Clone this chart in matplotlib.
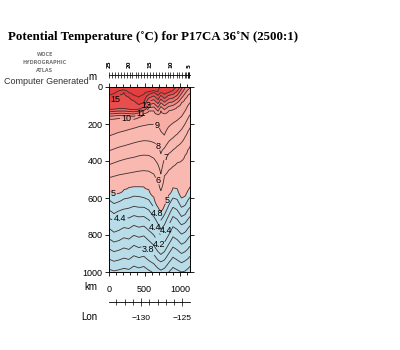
import numpy as np
import matplotlib
matplotlib.use("Agg")
import matplotlib.pyplot as plt

nan = np.nan

# section distance (km) of the profile columns and surface temperature
dist = [0, 70, 140, 210, 280, 350, 420, 490, 560, 630, 690, 730, 780, 840, 900, 960, 1020, 1070, 1110, 1140]
sst = [17.3, 17.3, 17.2, 17.2, 17.0, 17.0, 16.8, 16.6, 16.4, 16.3, 16.2, 16.0, 15.8, 15.6, 15.4, 15.0, 13.6, 12.4, 11.6, 11.2]

# isotherm depths (m) at each column
iso_levels = [16, 15, 14, 13, 12, 11, 10, 9, 8, 7, 6, 5, 4.8, 4.6, 4.4, 4.2, 4.0, 3.8, 3.6, 3.4, 3.2]
iso16 = [45, 35, 20, 15, 30, 45, 55, 40, 25, 20, 25, 15, nan, nan, nan, nan, nan, nan, nan, nan]
iso15 = [80, 70, 45, 30, 55, 75, 95, 85, 40, 30, 45, 30, 40, 30, 20, nan, nan, nan, nan, nan]
iso14 = [122, 120, 118, 118, 120, 124, 120, 112, 60, 48, 70, 45, 62, 45, 40, nan, nan, nan, nan, nan]
iso13 = [134, 132, 130, 130, 132, 134, 130, 120, 78, 68, 90, 65, 82, 65, 60, 45, 10, nan, nan, nan]
iso12 = [146, 144, 142, 142, 144, 146, 140, 126, 96, 88, 110, 85, 102, 85, 80, 65, 35, 5, nan, nan]
iso11 = [158, 156, 154, 154, 156, 158, 150, 132, 112, 108, 130, 105, 122, 105, 100, 85, 60, 35, 15, 5]
iso10 = [174, 172, 170, 170, 172, 174, 164, 142, 130, 128, 150, 128, 145, 128, 122, 108, 85, 65, 45, 35]
iso9 = [265, 255, 245, 238, 230, 222, 214, 208, 203, 202, 206, 240, 260, 215, 195, 180, 160, 130, 100, 85]
iso8 = [345, 335, 325, 318, 310, 302, 295, 290, 292, 300, 318, 360, 330, 295, 275, 255, 230, 200, 170, 150]
iso7 = [420, 410, 400, 392, 385, 380, 372, 368, 370, 385, 420, 470, 385, 360, 340, 320, 300, 270, 240, 220]
iso6 = [490, 482, 475, 470, 465, 460, 455, 452, 455, 470, 505, 560, 480, 450, 430, 410, 400, 370, 340, 320]
iso5 = [555, 580, 575, 555, 542, 538, 538, 540, 555, 595, 650, 672, 640, 585, 545, 550, 600, 590, 560, 540]
iso48 = [610, 630, 620, 605, 600, 590, 592, 598, 610, 650, 690, 720, 690, 640, 600, 608, 650, 640, 612, 595]
iso46 = [665, 685, 670, 660, 655, 645, 650, 650, 665, 700, 740, 770, 745, 695, 650, 665, 700, 690, 665, 650]
iso44 = [708, 722, 712, 705, 708, 695, 702, 700, 718, 745, 775, 800, 790, 745, 700, 715, 745, 735, 715, 700]
iso42 = [765, 785, 775, 760, 765, 748, 758, 752, 775, 800, 845, 860, 840, 800, 755, 770, 795, 785, 765, 750]
iso40 = [820, 838, 830, 815, 822, 802, 812, 805, 830, 855, 890, 905, 890, 850, 810, 825, 850, 840, 820, 805]
iso38 = [875, 890, 882, 870, 878, 856, 868, 860, 884, 905, 935, 945, 935, 900, 865, 880, 900, 890, 875, 860]
iso36 = [930, 942, 935, 925, 932, 912, 922, 915, 938, 955, 980, 990, 980, 950, 920, 935, 950, 940, 928, 915]
iso34 = [985, 994, 988, 980, 986, 968, 978, 970, 990, 1005, 1025, 1035, 1025, 1000, 975, 988, 1000, 995, 982, 970]
iso32 = [1040, 1045, 1048, 1040, 1030, 1025, 1022, 1028, 1042, 1060, 1080, 1090, 1080, 1055, 1035, 1040, 1055, 1050, 1035, 1025]
iso_depths = [iso16, iso15, iso14, iso13, iso12, iso11, iso10, iso9, iso8, iso7, iso6,
              iso5, iso48, iso46, iso44, iso42, iso40, iso38, iso36, iso34, iso32]

# station ticks on the top bar
sta_km = [5, 45, 85, 125, 165, 210, 250, 290, 330, 375, 415, 455, 495, 540, 580, 620, 660,
          700, 745, 785, 825, 865, 905, 950, 990, 1030, 1065, 1090, 1105, 1115, 1122, 1128]
sta_lab_km = [5, 290, 580, 865, 1122]
sta_lab = ["25", "20", "15", "10", "5"]

# longitude axis
lon_major = [-130, -125]
lon_minor = [-133, -132, -131, -129, -128, -127, -126]

fill_levels = [2, 5, 9, 10, 11, 12, 13, 14, 15, 20]
fill_colors = ['#b8dce8', '#f9b8b0', '#f7aca4', '#f59c95', '#f38a84', '#f07672',
               '#ec6260', '#e84e4e', '#e43e3e']
line_levels = [3.4, 3.6, 3.8, 4.0, 4.2, 4.4, 4.6, 4.8, 5, 6, 7, 8, 9, 10, 11, 12, 13, 14, 15, 16]

# build the temperature field column by column from the isotherm depths
depth_grid = np.arange(0, 1001, 5)
field = np.empty((len(depth_grid), len(dist)))
for j in range(len(dist)):
    z = [0.0]
    t = [sst[j]]
    for lev, row in zip(iso_levels, iso_depths):
        if not np.isnan(row[j]) and lev < sst[j]:
            z.append(row[j])
            t.append(lev)
    field[:, j] = np.interp(depth_grid, z, t)

W, H = 400, 350
fig = plt.figure(figsize=(4, 3.5), dpi=100)
fig.patch.set_facecolor('white')


def fx(px):
    return px / W


def fy(py):
    return 1 - py / H


ax = fig.add_axes([fx(109), fy(272), fx(190) - fx(109), fy(87) - fy(272)])
ax.contourf(dist, depth_grid, field, levels=fill_levels, colors=fill_colors)
cs = ax.contour(dist, depth_grid, field, levels=line_levels, colors='#3c3030', linewidths=0.6)
label_pos = [(100, 75), (530, 100), (455, 141), (250, 172), (680, 205), (705, 320),
             (790, 375), (700, 505), (60, 578), (820, 612), (667, 683), (667, 752),
             (808, 775), (150, 712), (690, 858), (526, 890)]
texts = ax.clabel(cs, fmt=lambda v: f'{v:g}', manual=label_pos, inline=True, fontsize=6.5,
                  colors='black', inline_spacing=1)
for t in texts:
    t.set_rotation(0)
    t.set_family('Liberation Sans')

ax.set_xlim(0, 1140)
ax.set_ylim(1000, 0)
ax.set_yticks([0, 200, 400, 600, 800, 1000])
ax.set_xticks([0, 500, 1000])
ax.set_xticks(np.arange(0, 1140, 100), minor=True)
ax.tick_params(direction='out', length=3, width=0.6, top=True, right=True,
               labelsize=6.5, pad=1.5)
ax.tick_params(axis='x', pad=6)
ax.tick_params(which='minor', direction='out', length=2.5, width=0.6, top=True, bottom=True)
for lab in ax.get_xticklabels() + ax.get_yticklabels():
    lab.set_family('Liberation Sans')
for s in ax.spines.values():
    s.set_linewidth(0.7)

# station bar on top
ax_st = fig.add_axes([fx(109), fy(75), fx(190) - fx(109), 0.0001])
ax_st.set_xlim(0, 1140)
ax_st.set_yticks([])
for k in ['top', 'left', 'right']:
    ax_st.spines[k].set_visible(False)
ax_st.spines['bottom'].set_linewidth(0.6)
ax_st.set_xticks(sta_lab_km)
ax_st.set_xticklabels(sta_lab, rotation=90, fontsize=4, fontweight='bold')
ax_st.set_xticks(sta_km, minor=True)
ax_st.tick_params(which='both', direction='inout', length=4, width=0.5,
                  labelbottom=False, labeltop=True, bottom=True, top=False, pad=3)
ax_st.patch.set_visible(False)

# longitude bar
ax_lon = fig.add_axes([fx(109), fy(302), fx(190) - fx(109), 0.0001])
ax_lon.set_xlim(-133.9, -124.05)
ax_lon.set_yticks([])
for k in ['top', 'left', 'right']:
    ax_lon.spines[k].set_visible(False)
ax_lon.spines['bottom'].set_linewidth(0.6)
ax_lon.set_xticks(lon_major)
ax_lon.set_xticklabels([f'\u2212{abs(v)}' for v in lon_major], fontsize=6,
                       family='Liberation Sans')
ax_lon.set_xticks(lon_minor, minor=True)
ax_lon.tick_params(which='major', direction='inout', length=6, width=0.5, pad=6)
ax_lon.tick_params(which='minor', direction='inout', length=4, width=0.5)
ax_lon.patch.set_visible(False)

fig.text(fx(8), fy(37), 'Potential Temperature (\u02daC) for P17CA 36\u02daN (2500:1)',
         family='Liberation Serif', fontweight='bold', fontsize=9.3, va='center', ha='left')
for txt, py in [('WOCE', 55), ('HYDROGRAPHIC', 63), ('ATLAS', 71)]:
    fig.text(fx(45), fy(py), txt, fontsize=3.5, fontweight='bold', color='#777777',
             ha='center', va='center', family='DejaVu Sans')
fig.text(fx(4), fy(82), 'Computer Generated', fontsize=6.5, family='Liberation Sans',
         color='#333333', ha='left', va='center')
fig.text(fx(97), fy(77), 'm', fontsize=7, family='Liberation Sans', ha='right', va='center')
fig.text(fx(97), fy(287), 'km', fontsize=7, family='Liberation Sans', ha='right', va='center')
fig.text(fx(97), fy(317), 'Lon', fontsize=7, family='Liberation Sans', ha='right', va='center')

fig.savefig('out.png', dpi=100)
